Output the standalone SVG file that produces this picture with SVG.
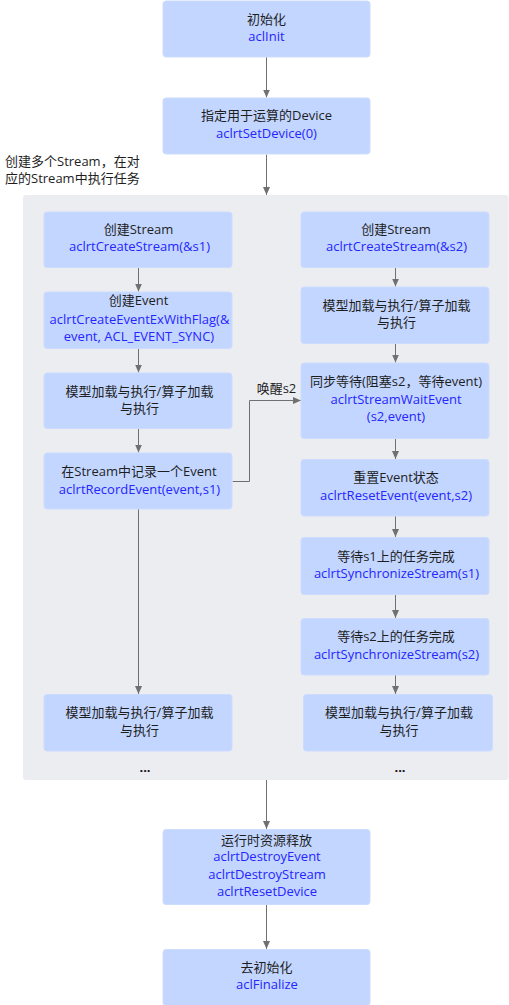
<svg xmlns="http://www.w3.org/2000/svg" width="509" height="1005" viewBox="0 0 509 1005">
<style>
.box{fill:#c3d6ff;stroke:#cddbff;stroke-width:1}
.ctr{fill:#ecedf1}
text{font-family:"Open Sans","Noto Sans CJK SC",sans-serif;font-size:13px;text-anchor:middle}
.k{fill:#1e1e1e}
.b{fill:#2525ff}
.lbl{text-anchor:start}
.dots{font-weight:bold;fill:#111}
.c{fill:none;stroke:#707070;stroke-width:1;marker-end:url(#ah)}
</style>
<defs>
<marker id="ah" viewBox="0 0 8 8" refX="8" refY="4" markerWidth="8" markerHeight="8" markerUnits="userSpaceOnUse" orient="auto">
<path d="M0,0.5 L8,4 L0,7.5 Z" fill="#707070"/>
</marker>
</defs>
<rect class="ctr" x="23" y="195" width="485.5" height="585" rx="3"/>
<text class="k lbl" x="5" y="165.5">创建多个Stream，在对</text>
<text class="k lbl" x="5" y="182.5">应的Stream中执行任务</text>
<g id="connectors">
<path class="c" d="M266.5,57 V97.5"/>
<path class="c" d="M266.5,154.5 V195"/>
<path class="c" d="M138.5,267.5 V291.5"/>
<path class="c" d="M138.5,348.5 V372.5"/>
<path class="c" d="M138.5,428.5 V452.5"/>
<path class="c" d="M138.5,509 V694"/>
<path class="c" d="M395.5,267.5 V286.5"/>
<path class="c" d="M395.5,343.5 V362.5"/>
<path class="c" d="M395.5,438.5 V459"/>
<path class="c" d="M395.5,516 V537"/>
<path class="c" d="M395.5,594.5 V618"/>
<path class="c" d="M395.5,675 V694"/>
<path class="c" d="M232.5,481.5 H249.5 V400.5 H301"/>
<path class="c" d="M266.5,780 V829"/>
<path class="c" d="M266.5,904.5 V949"/>
<text class="k" x="276.5" y="392.8">唤醒s2</text>
</g>
<g id="init"><rect class="box" x="163" y="1" width="207" height="56" rx="3"/>
<text class="k" x="266.5" y="23.5">初始化</text><text class="b" x="266.5" y="40.5">aclInit</text></g>
<g id="setdevice"><rect class="box" x="163" y="98" width="207" height="56" rx="3"/>
<text class="k" x="266.5" y="119.5">指定用于运算的Device</text><text class="b" x="266.5" y="137.8">aclrtSetDevice(0)</text></g>
<g id="l1"><rect class="box" x="44" y="212" width="188" height="55.5" rx="3"/>
<text class="k" x="138.5" y="233.8">创建Stream</text><text class="b" x="139.5" y="251.2">aclrtCreateStream(&amp;s1)</text></g>
<g id="l2"><rect class="box" x="44" y="292" width="188" height="56.5" rx="3"/>
<text class="k" x="138.5" y="304.5">创建Event</text><text class="b" x="139.5" y="323.8">aclrtCreateEventExWithFlag(&amp;</text><text class="b" x="139" y="341.2">event, ACL_EVENT_SYNC)</text></g>
<g id="l3"><rect class="box" x="44" y="373" width="188" height="55.5" rx="3"/>
<text class="k" x="139.5" y="395.5">模型加载与执行/算子加载</text><text class="k" x="139.5" y="413">与执行</text></g>
<g id="l4"><rect class="box" x="44" y="453" width="188" height="56" rx="3"/>
<text class="k" x="139" y="475.5">在Stream中记录一个Event</text><text class="b" x="139.5" y="493.5">aclrtRecordEvent(event,s1)</text></g>
<g id="l5"><rect class="box" x="44" y="694.5" width="188" height="56.5" rx="3"/>
<text class="k" x="139.5" y="717.2">模型加载与执行/算子加载</text><text class="k" x="139.5" y="735.2">与执行</text></g>
<g id="r1"><rect class="box" x="301" y="212" width="188" height="55.5" rx="3"/>
<text class="k" x="396" y="233.8">创建Stream</text><text class="b" x="396.5" y="251.2">aclrtCreateStream(&amp;s2)</text></g>
<g id="r2"><rect class="box" x="301" y="287" width="188" height="56.5" rx="3"/>
<text class="k" x="396.5" y="310.2">模型加载与执行/算子加载</text><text class="k" x="396.5" y="327.2">与执行</text></g>
<g id="r3"><rect class="box" x="301" y="363" width="188" height="75.5" rx="3"/>
<text class="k" x="396" y="386.2">同步等待(阻塞s2，等待event)</text><text class="b" x="396" y="403.8">aclrtStreamWaitEvent</text><text class="b" x="396" y="420.5">(s2,event)</text></g>
<g id="r4"><rect class="box" x="301" y="459.5" width="188" height="56.5" rx="3"/>
<text class="k" x="396" y="482.2">重置Event状态</text><text class="b" x="396" y="500.2">aclrtResetEvent(event,s2)</text></g>
<g id="r5"><rect class="box" x="301" y="537.5" width="188" height="57" rx="3"/>
<text class="k" x="396" y="561.2">等待s1上的任务完成</text><text class="b" x="396.5" y="578.3">aclrtSynchronizeStream(s1)</text></g>
<g id="r6"><rect class="box" x="301" y="618.5" width="188" height="56.5" rx="3"/>
<text class="k" x="396" y="641.2">等待s2上的任务完成</text><text class="b" x="396.5" y="658.8">aclrtSynchronizeStream(s2)</text></g>
<g id="r7"><rect class="box" x="303.5" y="694.5" width="189" height="56.5" rx="3"/>
<text class="k" x="399" y="717.2">模型加载与执行/算子加载</text><text class="k" x="399" y="735.2">与执行</text></g>
<text class="dots" x="145" y="772">...</text>
<text class="dots" x="400" y="772">...</text>
<g id="release"><rect class="box" x="163" y="829.5" width="207" height="75" rx="3"/>
<text class="k" x="266.5" y="844.5">运行时资源释放</text><text class="b" x="267" y="861.2">aclrtDestroyEvent</text><text class="b" x="267" y="878.8">aclrtDestroyStream</text><text class="b" x="267" y="895.5">aclrtResetDevice</text></g>
<g id="finalize"><rect class="box" x="163" y="949.5" width="207" height="56" rx="3"/>
<text class="k" x="266.5" y="972.2">去初始化</text><text class="b" x="267" y="988.5">aclFinalize</text></g>
</svg>
